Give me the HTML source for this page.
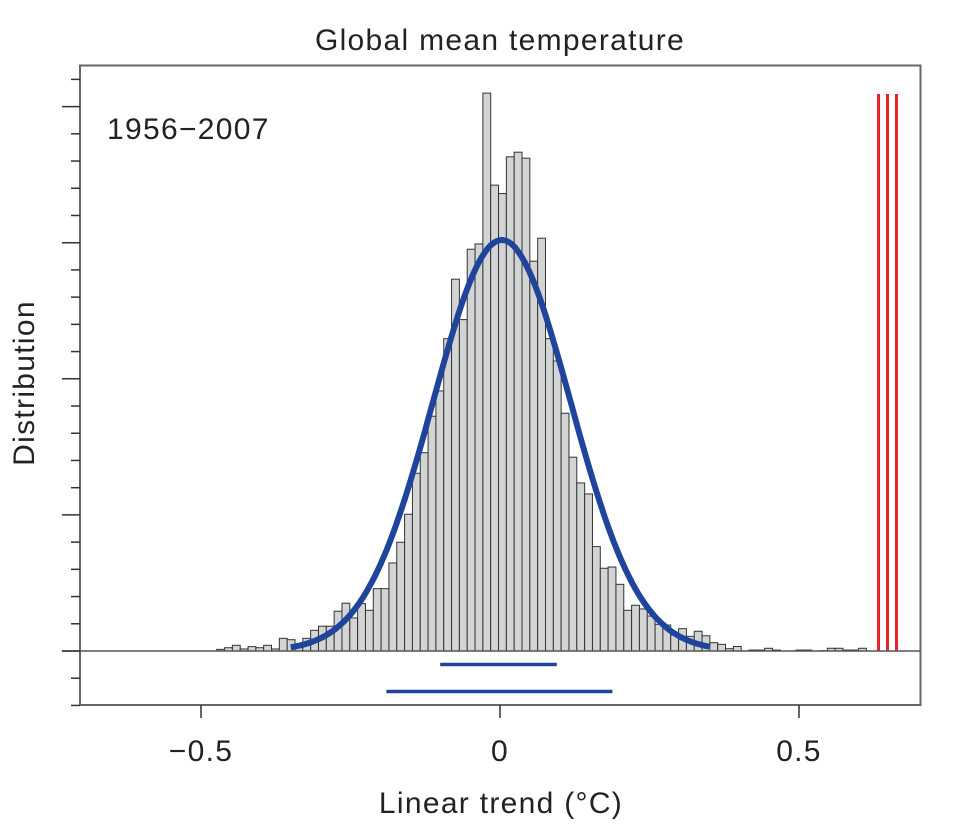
<!DOCTYPE html>
<html><head><meta charset="utf-8"><style>
html,body{margin:0;padding:0;background:#fff;}
svg text{font-family:"Liberation Sans",sans-serif;fill:#222;letter-spacing:1.3px;}
</style></head><body>
<svg id="chart" width="966" height="830" viewBox="0 0 966 830" xmlns="http://www.w3.org/2000/svg">
<text x="500" y="50" font-size="30" text-anchor="middle">Global mean temperature</text>
<text x="107" y="139" font-size="30">1956−2007</text>
<text x="0" y="0" font-size="30" text-anchor="middle" transform="translate(34,383) rotate(-90)">Distribution</text>
<text x="501" y="813" font-size="30" text-anchor="middle">Linear trend  (°C)</text>
<g id="bars"></g>
<g id="marks"></g>
<g id="axes"></g>
</svg>
<script>
const binStart = -0.4737;
const binWidth = 0.01309;
const counts = [1.2,2.4,4.2,1.5,3.2,2.4,4.2,1.5,9.3,8.3,5.1,9.3,15.2,18.2,18.2,29.2,35.1,24.3,34.8,29.9,45.8,45.8,64.7,79.9,100.5,130.6,145.7,172.5,191.1,229.5,273.2,243.5,295.2,299.1,409.9,342.3,336.1,363.1,366.5,362.1,286.4,303.3,229.5,213.1,174.7,142.4,123.5,115.4,76.7,60.8,61.7,49,29.9,33.6,30.9,25.7,19.6,19.1,11.8,16.4,10.8,14.5,11.2,6.1,4.9,1.7,3.3,0,0.7,0.7,2,0.7,0,0,0.7,0.7,0,0.2,2,2,0.7,0.7,2];
const fitParams = [0.003, 0.115, 302]; // mean, sd, peak count
const fitRange = [-0.35, 0.35];
const observedTrends = [0.633, 0.648, 0.663];
const rangeBars = [[-0.1, 0.095], [-0.19, 0.188]];
const xTicks = [-0.5, 0, 0.5];
const xTickLabels = ["−0.5", "0", "0.5"];
const yMajorTicks = [0, 100, 200, 300, 400];

const X = v => 500 + v * 598;
const Y = c => 651 - c * 1.361;
const NS = "http://www.w3.org/2000/svg";
function mk(tag, attrs, parent){const e=document.createElementNS(NS,tag);for(const k in attrs)e.setAttribute(k,attrs[k]);parent.appendChild(e);return e;}

const bars = document.getElementById('bars');
counts.forEach((c,i)=>{
  if(c<=0) return;
  const x0=X(binStart+i*binWidth), x1=X(binStart+(i+1)*binWidth);
  const r=mk('rect',{x:x0,y:Y(c),width:x1-x0,height:651-Y(c),fill:'#d3d5d5',stroke:'#333','stroke-width':1},bars);
  
  
});

const marks=document.getElementById('marks');
let d='';
for(let k=0;k<=140;k++){
  const v=fitRange[0]+(fitRange[1]-fitRange[0])*k/140;
  const c=fitParams[2]*Math.exp(-0.5*Math.pow((v-fitParams[0])/fitParams[1],2));
  d+=(k?'L':'M')+X(v).toFixed(1)+','+Y(c).toFixed(1);
}
const curve=mk('path',{d:d,fill:'none',stroke:'#1f449c','stroke-width':6,'stroke-linecap':'butt'},marks);



observedTrends.forEach(v=>{
  const l=mk('line',{x1:X(v),x2:X(v),y1:94,y2:651,stroke:'#e8232a','stroke-width':3},marks);
  
  
});
const rowY=[664.5,691.5];
rangeBars.forEach((r,i)=>{
  const l=mk('line',{x1:X(r[0]),x2:X(r[1]),y1:rowY[i],y2:rowY[i],stroke:'#1f449c','stroke-width':3.5},marks);
  
  
});

const axes=document.getElementById('axes');
const frame=mk('rect',{x:80,y:65.5,width:840.5,height:639.5,fill:'none',stroke:'#666','stroke-width':2},axes);


const base=mk('line',{x1:62,x2:920,y1:651,y2:651,stroke:'#555','stroke-width':1.5},axes);


for(let c=-40;c<=420;c+=20){
  const major=yMajorTicks.includes(c);
  const t=mk('line',{x1:major?62:71,x2:80,y1:Y(c),y2:Y(c),stroke:'#333','stroke-width':1.5},axes);
  
  
}
xTicks.forEach((v,i)=>{
  const t=mk('line',{x1:X(v),x2:X(v),y1:705,y2:718,stroke:'#333','stroke-width':1.5},axes);
  
  
  const tx=mk('text',{x:X(v),y:761,'font-size':30,'text-anchor':'middle'},axes);
  tx.textContent=xTickLabels[i];
  
  
});
</script>
</body></html>
